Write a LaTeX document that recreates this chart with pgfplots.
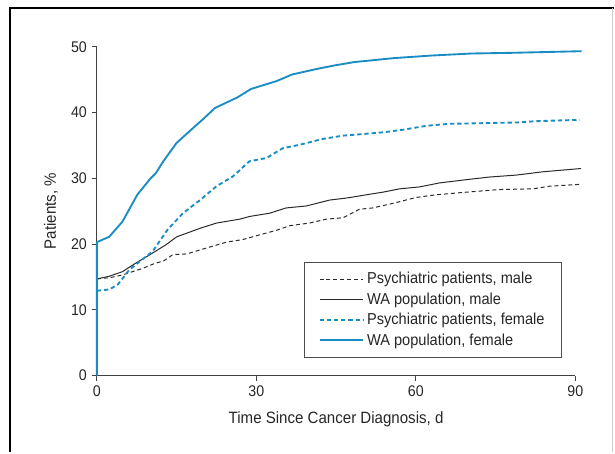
\documentclass[border=0pt]{standalone}
\usepackage{fontspec}
\setmainfont{Liberation Sans}[FakeStretch=0.92]
\usepackage{pgfplots}
\pgfplotsset{compat=1.18}
\definecolor{cblue}{HTML}{1A8CC4}
\definecolor{cdark}{HTML}{2A2A2A}
\begin{document}
\begin{tikzpicture}
\begin{axis}[
  scale only axis, width=359.25pt, height=246.75pt,
  xmin=0, xmax=90, ymin=0, ymax=50,
  clip=false,
  axis lines*=left,
  axis line style={black!75, line width=0.8pt},
  every tick/.style={black!75, line width=0.8pt},
  tick align=outside, major tick length=4pt,
  xtick={0,30,60,90}, ytick={0,10,20,30,40,50},
  /pgf/number format/assume math mode=true,
  ticklabel style={font=\fontsize{11.6}{14}\selectfont, text=black!85},
  xlabel={Time Since Cancer Diagnosis, d},
  ylabel={Patients, \%},
  label style={font=\fontsize{12.3}{14}\selectfont, text=black!85},
  xlabel style={at={(axis description cs:0.5,-0.1330)}, anchor=center},
  ylabel style={at={(axis description cs:-0.0960,0.5)}, anchor=center, rotate=0},
  legend cell align=left,
  legend style={at={(axis description cs:0.432,0.3465)}, anchor=north west,
    draw=black!70, line width=0.6pt, font=\fontsize{11.9}{13}\selectfont,
    inner xsep=11pt, inner ysep=5.8pt, row sep=1.2pt, text=black!85},
  legend image code/.code={\draw[#1] (0pt,0pt) -- (33pt,0pt);},
]
\addplot[cdark, line width=0.75pt, dash pattern=on 3pt off 2.2pt] coordinates {
(0,14.7) (2.5,14.9) (4.8,15.3) (8.6,16.3) (11,17.1) (12.5,17.4) (14.3,18.4) (16.9,18.5) (20.6,19.4) (24.4,20.3) (27.5,20.7) (30.6,21.4) (33.8,22.1) (36.3,22.8) (40,23.2) (43.2,23.8) (46.3,24.0) (47.5,24.5) (49.4,25.3) (51.9,25.5) (55.7,26.2) (60.1,27.1) (63.8,27.5) (69.5,27.9) (75.7,28.3) (82,28.4) (85.1,28.8) (91.1,29.1)};
\addlegendentry{Psychiatric patients, male}
\addplot[cdark, line width=0.75pt] coordinates {
(0,14.7) (2.3,15.1) (4.8,15.8) (7.3,17.1) (10,18.4) (13,19.9) (15,21.1) (19.4,22.4) (22.5,23.2) (26.9,23.8) (28.7,24.2) (32.5,24.7) (35.6,25.5) (39.4,25.8) (43.8,26.7) (46.9,27.0) (50.7,27.5) (53.8,27.9) (56.9,28.4) (60.7,28.7) (64.4,29.3) (69.5,29.8) (73.8,30.2) (78.9,30.5) (83.9,31.0) (91.1,31.5)};
\addlegendentry{WA population, male}
\addplot[cblue, line width=1.4pt, dash pattern=on 3.2pt off 2.2pt] coordinates {
(0,12.9) (2.3,13.1) (3.9,13.8) (6.1,16.1) (8.6,17.7) (10.5,18.9) (13.3,22.2) (16.2,24.7) (19.4,26.7) (22.5,28.8) (25.6,30.3) (28.7,32.6) (31.9,33.1) (35,34.6) (38.1,35.1) (42.5,36.0) (46.3,36.5) (49.4,36.7) (53.8,37.0) (57.6,37.4) (62,38.0) (66.3,38.3) (72.6,38.4) (78.9,38.5) (82.6,38.7) (86.4,38.8) (90.8,38.9)};
\addlegendentry{Psychiatric patients, female}
\addplot[cblue, line width=1.4pt] coordinates {
(0,0) (0,20.3) (2.3,21.1) (4.8,23.4) (7.6,27.5) (10,29.9) (11.1,30.8) (12.5,32.6) (15,35.4) (18.7,38.1) (20.1,39.1) (22.2,40.7) (25.6,42) (26.4,42.3) (29,43.6) (33.8,44.8) (36.7,45.8) (41.1,46.6) (44.8,47.2) (48.5,47.7) (55.9,48.3) (63.2,48.7) (70.6,49.0) (78,49.1) (91.2,49.35)};
\addlegendentry{WA population, female}
\draw[black, line width=1.1pt] (axis cs:-16.35,-11.7) -- (axis cs:-16.35,55.93) -- (axis cs:97.33,55.93);
\draw[black!20, line width=0.6pt] (axis cs:96.96,55.93) -- (axis cs:96.96,-11.7);
\path[use as bounding box] (axis cs:-18.226,-11.70) rectangle (axis cs:97.33,57.14);
\end{axis}
\end{tikzpicture}
\end{document}
